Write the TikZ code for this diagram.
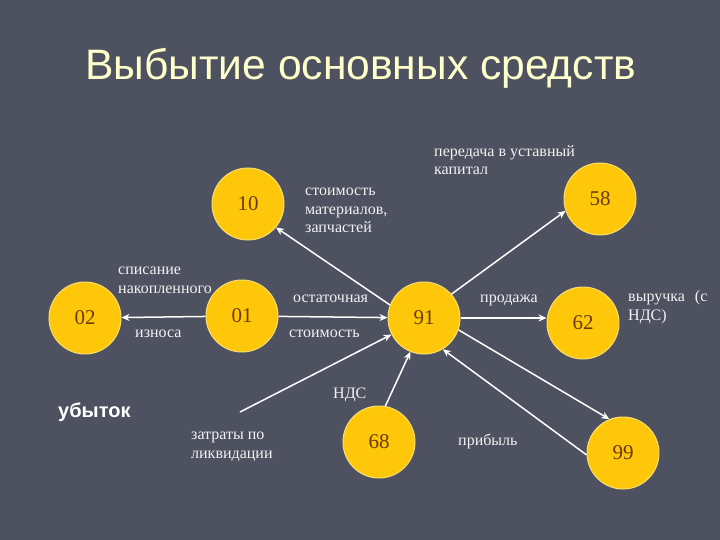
\documentclass[tikz,border=0pt]{standalone}
\usepackage{fontspec}
\setmainfont{Liberation Serif}
\newfontfamily\titlefont{Liberation Sans}
\usetikzlibrary{arrows.meta}
\definecolor{bg}{HTML}{4E5260}
\definecolor{gold}{HTML}{FFC70A}
\definecolor{ring}{HTML}{F8DE70}
\definecolor{num}{HTML}{6A3A05}
\definecolor{ttl}{HTML}{FFFFCC}
\definecolor{lbl}{HTML}{F2F2F2}
\begin{document}
\begin{tikzpicture}[x=1pt,y=-1pt,
  acc/.style={circle,fill=gold,draw=ring,line width=1pt,minimum size=72pt,inner sep=0pt,
    font=\fontsize{21}{22}\selectfont,text=num},
  lab/.style={text=lbl,font=\fontsize{16}{18.5}\selectfont,align=left,inner sep=0pt,anchor=base west},
  arr/.style={draw=white,line width=1.5pt,-{Stealth[length=8pt,width=7pt]}}]
\fill[bg] (0,0) rectangle (720,540);
\useasboundingbox (0,0) rectangle (720,540);
% title
\node[anchor=base west,inner sep=0pt,text=ttl] (title) at (85,80)
  {\resizebox{551pt}{!}{\titlefont\fontsize{46}{50}\selectfont Выбытие основных средств}};
% accounts
\node[acc] (n10) at (248,204) {10};
\node[acc] (n58) at (600,199) {58};
\node[acc] (n02) at (85,318) {02};
\node[acc] (n01) at (242,316) {01};
\node[acc] (n91) at (424,318) {91};
\node[acc] (n62) at (583,323) {62};
\node[acc] (n68) at (379,442) {68};
\node[acc] (n99) at (623,453) {99};
\coordinate (liq) at (240,412);
% connectors
\draw[arr] (n01) -- (n02);
\draw[arr] (n01) -- (n91);
\draw[arr] (n91.159) -- (n10.-40);
\draw[arr] (n91.41) -- (n58.199);
\draw[arr] (liq) -- (n91.207);
\draw[arr] (n68.80) -- (n91.248);
\draw[arr] (n91.east) -- (n91.east -| n62.west);
\draw[arr] (n91.-19) -- (n99.112);
\draw[arr] (n99.183) -- (n91.301);
% labels (anchor = baseline of the last line)
\node[lab] (l1) at (118,293) {списание\\накопленного};
\node[lab] (l2) at (135,337) {износа};
\node[lab] (l3) at (305,233) {стоимость\\материалов,\\запчастей};
\node[lab] (l4) at (434,175) {передача в уставный\\капитал};
\node[lab] (l5) at (293,302) {остаточная};
\node[lab] (l6) at (289,337) {стоимость};
\node[lab] (l7) at (480,302) {продажа};
\node[lab] (l8) at (628,320) {выручка\hspace{10pt}(с\\НДС)};
\node[lab] (l9) at (333,398) {НДС};
\node[lab] (l10) at (191,458) {затраты по\\ликвидации};
\node[lab] (l11) at (458,445) {прибыль};
\node[anchor=base west,inner sep=0pt,text=white,font=\titlefont\bfseries\fontsize{20}{22}\selectfont] (loss) at (58,417) {убыток};
\end{tikzpicture}
\end{document}
